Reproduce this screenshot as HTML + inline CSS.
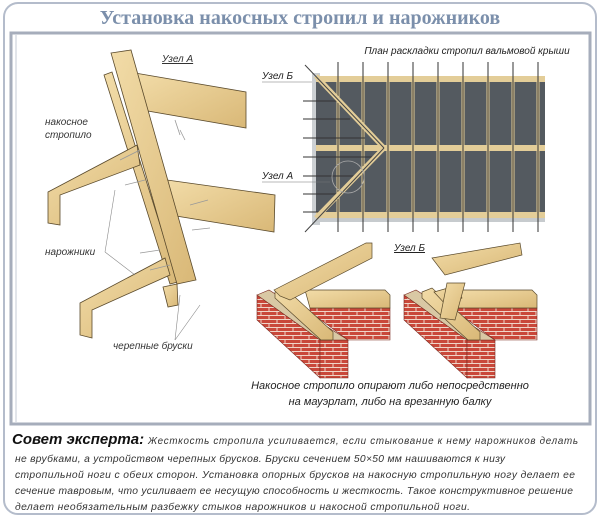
<!DOCTYPE html>
<html><head><meta charset="utf-8"><style>
body{margin:0;width:600px;height:518px;background:#fff;overflow:hidden;font-family:"Liberation Sans",sans-serif}
</style></head><body>
<svg width="600" height="518" viewBox="0 0 600 518" xmlns="http://www.w3.org/2000/svg">
<defs>
<pattern id="brick" width="16" height="8" patternUnits="userSpaceOnUse">
<rect width="16" height="8" fill="#c9483a"/>
<path d="M0 7.5H16M0 3.5H16M4 0V3.5M12 3.5V8" stroke="#f0d5c8" stroke-width="1"/>
</pattern>
<linearGradient id="wd" x1="0" y1="0" x2="1" y2="1"><stop offset="0" stop-color="#f2dca8"/><stop offset="1" stop-color="#d9b877"/></linearGradient>
<g id="wall">
<polygon points="0,55 63,100 63,138 0,80" fill="url(#brick)" stroke="#7a2a20" stroke-width="0.6"/>
<polygon points="63,100 91,100 91,138 63,138" fill="url(#brick)" stroke="#7a2a20" stroke-width="0.6"/>
<polygon points="53,68 133,68 133,100 91,100 53,72" fill="url(#brick)" stroke="#7a2a20" stroke-width="0.6"/>
<polygon points="0,55 12,50 91,100 63,100" fill="#d9c8a4" stroke="#7a2a20" stroke-width="0.6"/>
<polygon points="48,50 128,50 133,55 133,68 53,68" fill="url(#wd)" stroke="#5a4a2c" stroke-width="0.7"/>
<polygon points="18,52 28,48 76,92 76,100 64,100 18,58" fill="url(#wd)" stroke="#5a4a2c" stroke-width="0.7"/>
</g>
</defs>
<rect x="4" y="3" width="592" height="511" rx="14" fill="#fff" stroke="#b4bccb" stroke-width="2"/>
<text x="300" y="24" text-anchor="middle" font-family="Liberation Serif,serif" font-weight="bold" font-size="20" fill="#7b8fab">Установка накосных стропил и нарожников</text>
<rect x="11" y="33" width="579" height="391" fill="#fff" stroke="#a6adbb" stroke-width="3"/>
<line x1="16" y1="35" x2="16" y2="422" stroke="#c5cbd5" stroke-width="1"/>

<g stroke="#5a4a2c" stroke-width="0.8" fill="url(#wd)">
<polygon points="135,73 246,92 246,128 142,110"/>
<polygon points="167,180 275,195 274,232 170,215"/>
<polygon points="104,75 112,72 178,282 170,284"/>
<polygon points="111,53 131,50 196,280 177,284"/>
<polygon points="48,192 137,145 140,165 60,195 60,225 48,223"/>
<polygon points="80,303 165,258 170,275 92,310 92,338 80,335"/>
<polygon points="163,287 177,284 178,305 168,307"/>
</g>
<g stroke="#999" stroke-width="0.8">
<line x1="120" y1="160" x2="140" y2="150"/><line x1="125" y1="185" x2="145" y2="180"/>
<line x1="190" y1="205" x2="208" y2="200"/><line x1="192" y1="230" x2="210" y2="228"/>
<line x1="140" y1="253" x2="160" y2="250"/><line x1="150" y1="270" x2="170" y2="265"/>
<line x1="175" y1="120" x2="180" y2="135"/><line x1="180" y1="130" x2="185" y2="140"/>
</g>
<g fill="#333" font-style="italic" font-size="10">
<text x="162" y="62" text-decoration="underline">Узел А</text>
<text x="45" y="125">накосное</text><text x="45" y="138">стропило</text>
<text x="45" y="255">нарожники</text>
<text x="113" y="349">черепные бруски</text>
</g>
<g stroke="#888" stroke-width="0.6" fill="none">
<polyline points="105,252 115,190"/><polyline points="105,252 135,275"/><polyline points="175,340 180,295"/><polyline points="175,340 200,305"/>
</g>

<text x="467" y="54" text-anchor="middle" font-style="italic" font-size="10" fill="#222">План раскладки стропил вальмовой крыши</text>
<rect x="312" y="73" width="8" height="152" fill="#ccd0d3"/>
<rect x="316" y="76" width="229" height="142" fill="#545a60"/>
<rect x="316" y="76" width="229" height="6" fill="#e3cd98"/>
<rect x="316" y="212" width="229" height="6" fill="#e3cd98"/>
<rect x="316" y="218" width="229" height="4" fill="#c7cbce"/>
<rect x="316" y="145" width="229" height="6" fill="#e3cd98"/>
<g stroke="#e3cd98" stroke-width="3">
<line x1="338" y1="76" x2="338" y2="218"/><line x1="363" y1="76" x2="363" y2="218"/><line x1="388" y1="76" x2="388" y2="218"/><line x1="413" y1="76" x2="413" y2="218"/><line x1="438" y1="76" x2="438" y2="218"/><line x1="463" y1="76" x2="463" y2="218"/><line x1="488" y1="76" x2="488" y2="218"/><line x1="513" y1="76" x2="513" y2="218"/><line x1="538" y1="76" x2="538" y2="218"/>
</g>
<g stroke="#333" stroke-width="1">
<line x1="338" y1="62" x2="338" y2="232"/><line x1="363" y1="62" x2="363" y2="232"/><line x1="388" y1="62" x2="388" y2="232"/><line x1="413" y1="62" x2="413" y2="232"/><line x1="438" y1="62" x2="438" y2="232"/><line x1="463" y1="62" x2="463" y2="232"/><line x1="488" y1="62" x2="488" y2="232"/><line x1="513" y1="62" x2="513" y2="232"/><line x1="538" y1="62" x2="538" y2="232"/>
<line x1="303" y1="101" x2="340" y2="101"/><line x1="303" y1="119" x2="350" y2="119"/><line x1="303" y1="138" x2="365" y2="138"/><line x1="303" y1="157" x2="375" y2="157"/><line x1="303" y1="176" x2="355" y2="176"/><line x1="303" y1="194" x2="340" y2="194"/><line x1="303" y1="212" x2="325" y2="212"/>
</g>
<g stroke="#e3cd98" stroke-width="5"><line x1="316" y1="76" x2="384" y2="148"/><line x1="384" y1="148" x2="316" y2="218"/></g>
<g stroke="#444" stroke-width="1"><line x1="305" y1="65" x2="384" y2="148"/><line x1="384" y1="148" x2="305" y2="232"/></g>
<circle cx="348" cy="177" r="16" fill="none" stroke="#aaa" stroke-width="0.8"/>
<g fill="#222" font-style="italic" font-size="10">
<text x="262" y="79">Узел Б</text><text x="262" y="179">Узел А</text>
</g>
<line x1="262" y1="82" x2="312" y2="82" stroke="#777" stroke-width="0.6"/>
<line x1="262" y1="182" x2="330" y2="182" stroke="#777" stroke-width="0.6"/>

<text x="394" y="251" font-style="italic" font-size="10" fill="#222" text-decoration="underline">Узел Б</text>
<use href="#wall" x="257" y="240"/>
<use href="#wall" x="404" y="240"/>
<g stroke="#5a4a2c" stroke-width="0.7" fill="url(#wd)">
<polygon points="274,290 366,243 372,243 372,258 290,300 280,296"/>
<polygon points="434,292 455,286 462,298 447,306"/>
<polygon points="447,283 465,283 455,320 440,318"/>
<polygon points="432,258 520,243 522,255 445,275"/>
</g>
<text x="390" y="389" text-anchor="middle" font-style="italic" font-size="11" fill="#222">Накосное стропило опирают либо непосредственно</text>
<text x="390" y="405" text-anchor="middle" font-style="italic" font-size="11" fill="#222">на мауэрлат, либо на врезанную балку</text>

<g font-family="'Liberation Sans',sans-serif" font-style="italic" font-size="10.3" fill="#333">
<text x="12" y="444"><tspan font-size="15" font-weight="bold" fill="#111">Совет эксперта:</tspan><tspan x="148" font-size="9.8" textLength="430">Жесткость стропила усиливается, если стыкование к нему нарожников делать</tspan></text>
<text x="15" y="462" textLength="490">не врубками, а устройством черепных брусков. Бруски сечением 50×50 мм нашиваются к низу</text>
<text x="15" y="478" textLength="560">стропильной ноги с обеих сторон. Установка опорных брусков на накосную стропильную ногу делает ее</text>
<text x="15" y="494" textLength="558">сечение тавровым, что усиливает ее несущую способность и жесткость. Такое конструктивное решение</text>
<text x="15" y="510" textLength="455">делает необязательным разбежку стыков нарожников и накосной стропильной ноги.</text>
</g>
</svg>
</body></html>
